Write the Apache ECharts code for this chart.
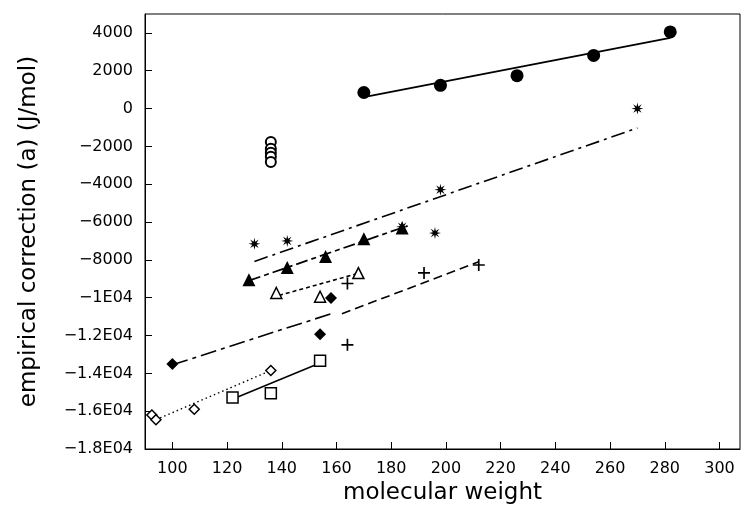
<!DOCTYPE html>
<html>
<head>
<meta charset="utf-8">
<script src="https://cdn.jsdelivr.net/npm/echarts@6/dist/echarts.min.js"></script>
<style>html,body{margin:0;padding:0;background:#fff}#c{width:743px;height:515px}</style>
</head>
<body>
<div id="c"></div>
<script>
// ---- data ----
const xTickValues = [100, 120, 140, 160, 180, 200, 220, 240, 260, 280, 300];
const yTickValues = [4000, 2000, 0, -2000, -4000, -6000, -8000, -10000, -12000, -14000, -16000, -18000];
const yTickLabels = ['4000', '2000', '0', '\u22122000', '\u22124000', '\u22126000', '\u22128000', '\u22121E04', '\u22121.2E04', '\u22121.4E04', '\u22121.6E04', '\u22121.8E04'];

const filledCircles = [[170, 850], [198, 1230], [226, 1740], [254, 2810], [282, 4050]];
const openCircles = [[136, -1770], [136, -2120], [136, -2330], [136, -2550], [136, -2820]];
const asterisks = [[130, -7150], [142, -7000], [184, -6250], [196, -6580], [198, -4290], [270, 0]];
const filledTriangles = [[128, -9050], [142, -8400], [156, -7820], [170, -6880], [184, -6320]];
const openTriangles = [[138, -9750], [154, -9950], [168, -8700]];
const filledDiamonds = [[100, -13500], [154, -11930], [158, -10020]];
const pluses = [[164, -9250], [164, -12490], [192, -8690], [212, -8270]];
const openDiamonds = [[92.5, -16200], [94, -16450], [108, -15900], [136, -13850]];
const openSquares = [[122, -15280], [136, -15050], [154, -13340]];

const filledCircleFit = [[170, 610], [282, 3740]];
const asteriskFit = [[130, -8080], [270, -1030]];
const filledTriangleFit = [[128, -9100], [186, -6200]];
const openTriangleFit = [[139, -9880], [167, -8750]];
const filledDiamondFit = [[100, -13550], [158, -10850]];
const plusFit = [[162, -10850], [212, -8100]];
const openDiamondFit = [[94, -16450], [136, -13850]];
const openSquareFit = [[123, -15300], [154, -13450]];

// ---- symbols ----
function starPath(n, rOut, rIn) {
  let d = '';
  for (let i = 0; i < 2 * n; i++) {
    const r = i % 2 ? rIn : rOut;
    const a = Math.PI * i / n - Math.PI / 2;
    d += (i ? 'L' : 'M') + (10 + r * Math.cos(a)).toFixed(2) + ',' + (10 + r * Math.sin(a)).toFixed(2);
  }
  return 'path://' + d + 'Z';
}
const asteriskSymbol = starPath(8, 10, 3.8);
const plusSymbol = 'path://M4.3,0H5.7V4.3H10V5.7H5.7V10H4.3V5.7H0V4.3H4.3Z';

const INK = '#000';
const FONT = 'DejaVu Sans';

function scatter(data, symbol, size, filled, bw) {
  return {
    type: 'scatter', data: data, symbol: symbol, symbolSize: size,
    itemStyle: filled ? { color: INK, opacity: 1 } : { color: '#fff', borderColor: INK, borderWidth: bw || 1.5, opacity: 1 },
    z: 5, silent: true
  };
}
function fit(data, type, width) {
  return {
    type: 'line', data: data, showSymbol: false, symbol: 'none',
    lineStyle: { color: INK, width: width || 1.6, type: type },
    z: 3, silent: true, animation: false
  };
}

const chart = echarts.init(document.getElementById('c'), null, { renderer: 'canvas' });
chart.setOption({
  animation: false,
  backgroundColor: '#fff',
  grid: { left: 145, right: 3, top: 14, bottom: 66, show: true, borderColor: INK, borderWidth: 1, backgroundColor: 'transparent' },
  xAxis: {
    type: 'value', min: 90, max: 307.5,
    name: 'molecular weight', nameLocation: 'middle', nameGap: 31,
    nameTextStyle: { fontFamily: FONT, fontSize: 23, color: INK },
    axisLine: { show: true, onZero: false, lineStyle: { color: INK, width: 1 } },
    axisTick: { show: true, inside: true, length: 7, customValues: xTickValues, lineStyle: { color: INK } },
    axisLabel: { customValues: xTickValues, margin: 12, fontFamily: FONT, fontSize: 16, color: INK },
    splitLine: { show: false }
  },
  yAxis: {
    type: 'value', min: -18000, max: 5000, interval: 2000,
    name: 'empirical correction (a) (J/mol)', nameLocation: 'middle', nameGap: 104, nameRotate: 90,
    nameTextStyle: { fontFamily: FONT, fontSize: 23, color: INK },
    axisLine: { show: true, onZero: false, lineStyle: { color: INK, width: 1 } },
    axisTick: { show: true, inside: true, length: 7, customValues: yTickValues, lineStyle: { color: INK } },
    axisLabel: {
      customValues: yTickValues, margin: 12, fontFamily: FONT, fontSize: 16, color: INK,
      formatter: function (v) { const i = yTickValues.indexOf(v); return i >= 0 ? yTickLabels[i] : ''; }
    },
    splitLine: { show: false }
  },
  series: [
    fit(filledCircleFit, 'solid', 1.8),
    fit(asteriskFit, [14, 5, 3, 5], 1.6),
    fit(filledTriangleFit, [12, 4, 5, 4], 1.7),
    fit(openTriangleFit, [4, 3], 1.6),
    fit(filledDiamondFit, [16, 5, 4, 5], 1.6),
    fit(plusFit, [9, 5], 1.6),
    fit(openDiamondFit, [1.5, 3], 1.4),
    fit(openSquareFit, 'solid', 1.5),
    scatter(filledCircles, 'circle', 13, true),
    scatter(openCircles, 'circle', 10, false, 2),
    scatter(asterisks, asteriskSymbol, 12, true),
    scatter(filledTriangles, 'triangle', 13, true),
    scatter(openTriangles, 'triangle', 11, false),
    scatter(filledDiamonds, 'diamond', 12, true),
    scatter(pluses, plusSymbol, 12, true),
    scatter(openDiamonds, 'diamond', 10, false),
    scatter(openSquares, 'rect', 11, false)
  ]
});
</script>
</body>
</html>
